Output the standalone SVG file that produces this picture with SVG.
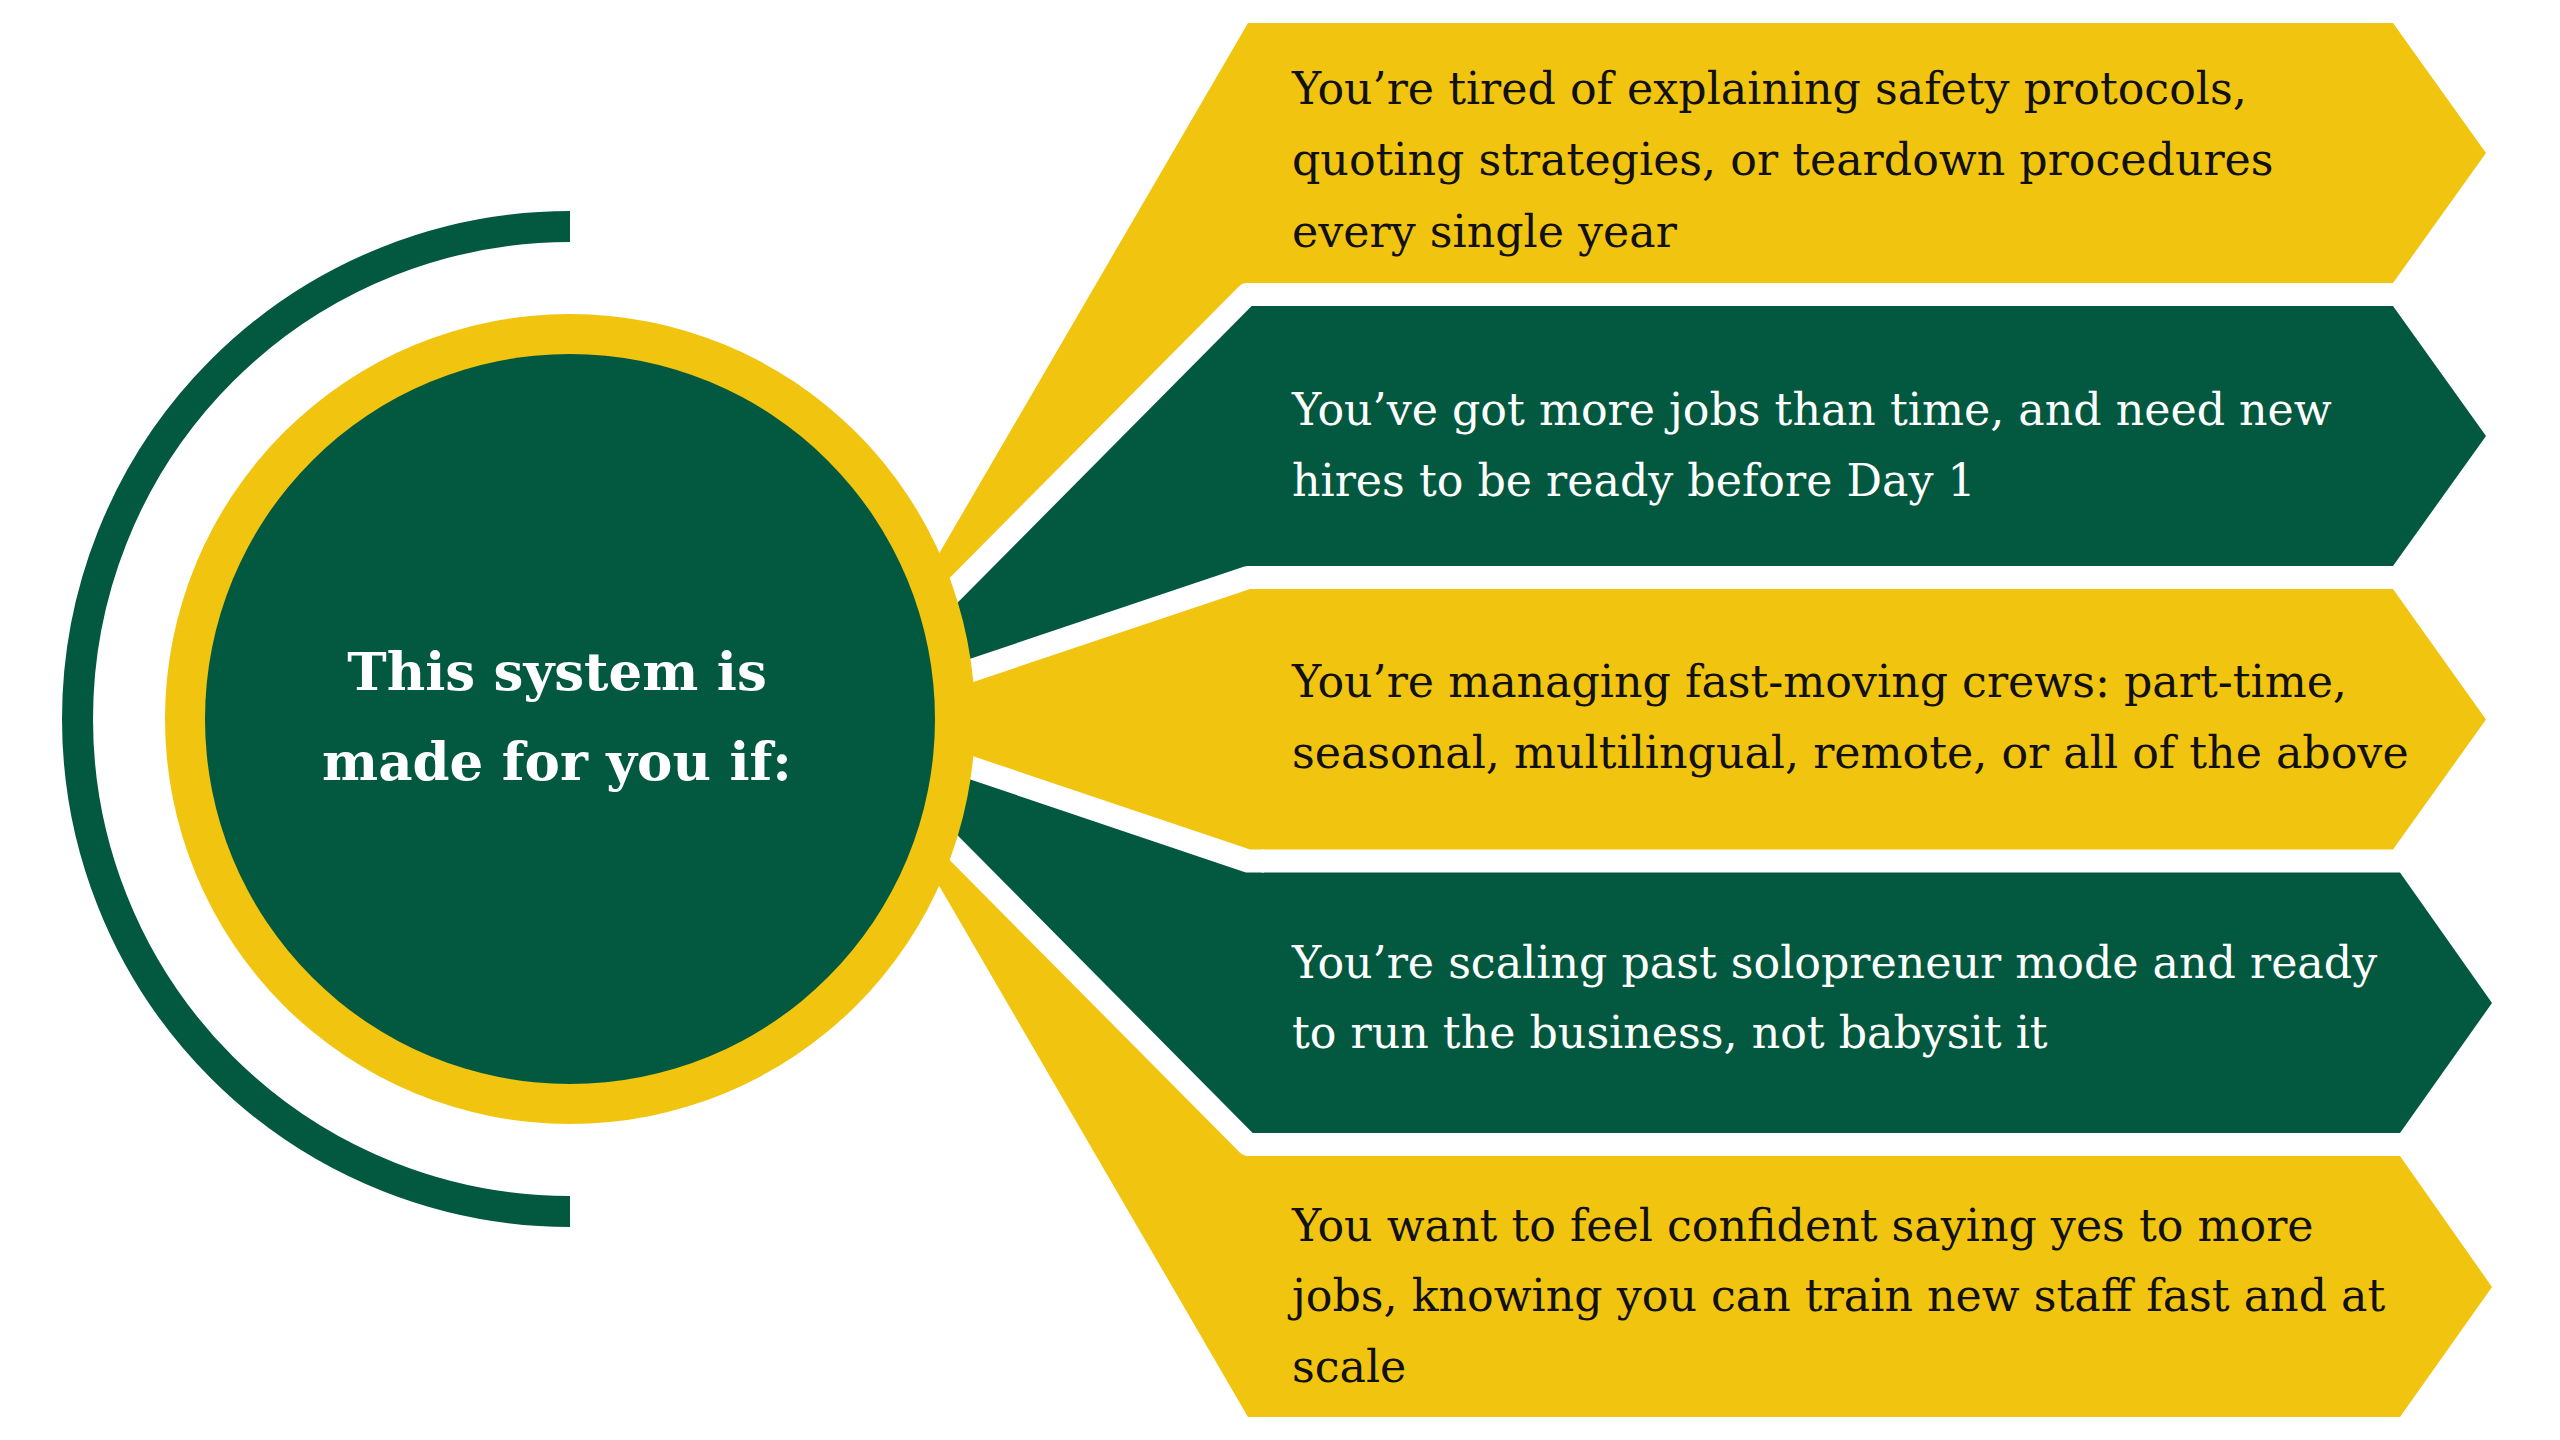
<svg xmlns="http://www.w3.org/2000/svg" width="2560" height="1440" viewBox="0 0 2560 1440">
<style>
.y{fill:#F1C40F}
.g{fill:#02593F}
.sep{fill:none;stroke:#FFFFFF;stroke-width:23;stroke-linejoin:round;stroke-linecap:butt}
.tb{font-family:"DejaVu Serif","Liberation Serif",serif;font-size:44.3px;fill:#111111}
.tw{font-family:"DejaVu Serif","Liberation Serif",serif;font-size:44.3px;fill:#FFFFFF}
.title{font-family:"DejaVu Serif","Liberation Serif",serif;font-size:53px;font-weight:bold;fill:#FFFFFF;text-anchor:middle}
</style>
<rect width="2560" height="1440" fill="#FFFFFF"/>
<g id="item1">
<polygon class="y" points="1248,23 2393,23 2486,153 2393,283 1262,283 1247,294.5 866,679"/>
<text class="tb" x="1292" y="104">You’re tired of explaining safety protocols,</text>
<text class="tb" x="1292" y="175">quoting strategies, or teardown procedures</text>
<text class="tb" x="1292" y="247">every single year</text>
</g>
<g id="item2">
<polygon class="g" points="866,679 1247,294.5 1262,306 2393,306 2486,436 2393,566 1262,566 1248,577.5 828,719"/>
<text class="tw" x="1292" y="425">You’ve got more jobs than time, and need new</text>
<text class="tw" x="1292" y="496">hires to be ready before Day 1</text>
</g>
<g id="item3">
<polygon class="y" points="828,719 1248,577.5 1262,589 2393,589 2486,719.5 2393,849.5 1262,849.5 1248,861"/>
<text class="tb" x="1292" y="697">You’re managing fast-moving crews: part-time,</text>
<text class="tb" x="1292" y="768">seasonal, multilingual, remote, or all of the above</text>
</g>
<g id="item4">
<polygon class="g" points="828,719 1248,861 1262,872.5 2400,872.5 2492,1003 2400,1133 1262,1133 1248,1144.5 866,760"/>
<text class="tw" x="1292" y="978">You’re scaling past solopreneur mode and ready</text>
<text class="tw" x="1292" y="1048">to run the business, not babysit it</text>
</g>
<g id="item5">
<polygon class="y" points="866,760 1248,1144.5 1262,1156 2400,1156 2492,1287 2400,1417 1248,1417"/>
<text class="tb" x="1292" y="1241">You want to feel confident saying yes to more</text>
<text class="tb" x="1292" y="1311">jobs, knowing you can train new staff fast and at</text>
<text class="tb" x="1292" y="1382">scale</text>
</g>
<g id="separators">
<path class="sep" d="M1264,294.5 L1247,294.5 L820,725"/>
<path class="sep" d="M1264,577.5 L1248,577.5 L800,728"/>
<path class="sep" d="M1264,861 L1248,861 L800,710"/>
<path class="sep" d="M1264,1144.5 L1248,1144.5 L820,713"/>
</g>
<g id="hub">
<path d="M570,226.5 A492.5,492.5 0 0 0 570,1211.5" fill="none" stroke="#02593F" stroke-width="31"/>
<circle cx="570" cy="719" r="405" class="y"/>
<circle cx="570" cy="719" r="365" class="g"/>
<text class="title" x="557" y="690">This system is</text>
<text class="title" x="557" y="780">made for you if:</text>
</g>
</svg>
